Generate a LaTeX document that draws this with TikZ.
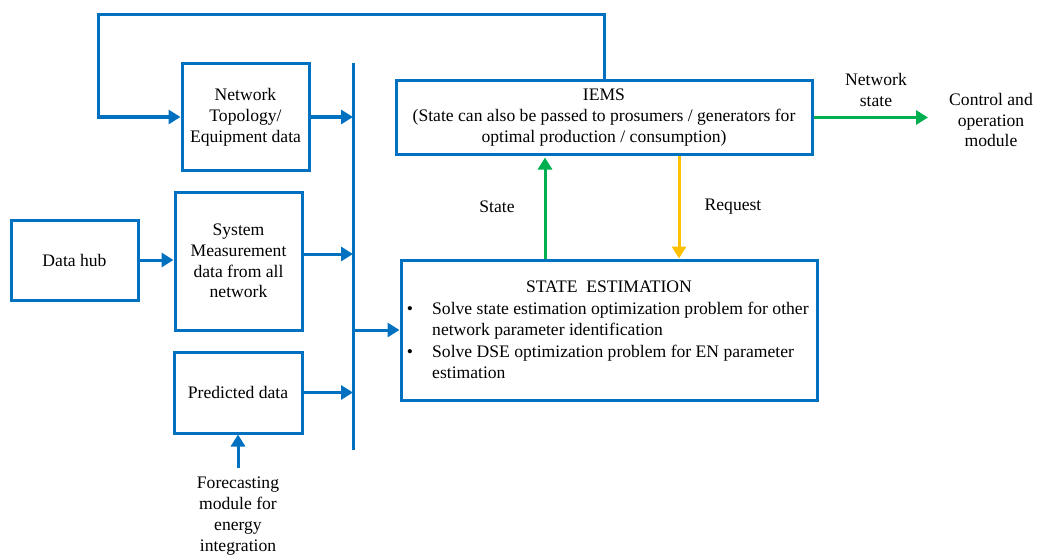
\documentclass[tikz,border=0pt]{standalone}
\usepackage{fontspec}
\setmainfont{Liberation Serif}
\usetikzlibrary{arrows.meta,calc}
\definecolor{cblue}{HTML}{0070C0}
\definecolor{cgreen}{HTML}{00B050}
\definecolor{cyellow}{HTML}{FFC000}
\begin{document}
\begin{tikzpicture}[x=1pt,y=-1pt,
  box/.style={draw=cblue,line width=3pt,rectangle,inner sep=0pt,align=center,font=\fontsize{17.6}{20.8}\selectfont},
  txt/.style={align=center,inner sep=0pt,font=\fontsize{17.6}{20.8}\selectfont},
  barrow/.style={draw=cblue,line width=3pt,-{Triangle[length=12pt,width=14pt]}},
  garrow/.style={draw=cgreen,line width=3pt,-{Triangle[length=12pt,width=14pt]}},
  yarrow/.style={draw=cyellow,line width=3pt,-{Triangle[length=12pt,width=14pt]}},
  bline/.style={draw=cblue,line width=3pt}]
\useasboundingbox (0,0) rectangle (1040,559);
\node[box,minimum width=127pt,minimum height=106pt] (nt) at (245.5,117) {Network\\Topology/\\Equipment data};
\node[box,minimum width=127pt,minimum height=138pt] (sm) at (238.5,261) {System\\Measurement\\data from all\\network};
\node[box,minimum width=127pt,minimum height=80pt] (dh) at (74.5,260) {Data hub};
\node[box,minimum width=128pt,minimum height=81pt] (pd) at (238,392.5) {Predicted data};
\node[txt] (fc) at (238,516) {Forecasting\\module for\\energy\\integration};
\node[box,minimum width=416pt,minimum height=73pt] (iems) at (604,117.5) {IEMS\\(State can also be passed to prosumers / generators for\\optimal production / consumption)};
\node[box,minimum width=416pt,minimum height=140pt] (se) at (609,330) {};
\node[txt] (setitle) at (609,287) {STATE\ \ ESTIMATION};
\node[txt,anchor=base west] (se1) at (432,314) {Solve state estimation optimization problem for other};
\node[txt,anchor=base west] (se2) at (432,335) {network parameter identification};
\node[txt,anchor=base west] (se3) at (432,357) {Solve DSE optimization problem for EN parameter};
\node[txt,anchor=base west] (se4) at (432,378) {estimation};
\node[txt,anchor=base] (b1) at (410,314) {\textbullet};
\node[txt,anchor=base] (b2) at (410,357) {\textbullet};
\node[txt] (lstate) at (497,207) {State};
\node[txt] (lreq) at (733,207) {Request};
\node[txt] (lns) at (876,90) {Network\\state};
\node[txt] (ctrl) at (991,120) {Control and\\operation\\module};
\coordinate (busT) at (353,63);
\coordinate (busB) at (353,450);
\coordinate (loopL) at (98,15);
\coordinate (xs) at (545,0);
\coordinate (xr) at (679,0);
\coordinate (nsend) at (928,0);
\coordinate (fcTop) at (238,468);
\draw[bline] (busT) -- (busB);
\draw[barrow] (iems.north) |- (loopL) |- (nt.west);
\draw[barrow] (nt.east) -- (nt.east -| busT);
\draw[barrow] ([yshift=7pt]sm.east) -- ([yshift=7pt]sm.east -| busT);
\draw[barrow] (pd.east) -- (pd.east -| busT);
\draw[barrow] (dh.east) -- (dh.east -| sm.west);
\draw[barrow] (fcTop) -- (pd.south);
\draw[barrow] (se.west -| busT) -- (se.west);
\draw[garrow] (se.north -| xs) -- ([yshift=-2pt]iems.south -| xs);
\draw[yarrow] (iems.south -| xr) -- (se.north -| xr);
\draw[garrow] (iems.east) -- (iems.east -| nsend);
\end{tikzpicture}
\end{document}
